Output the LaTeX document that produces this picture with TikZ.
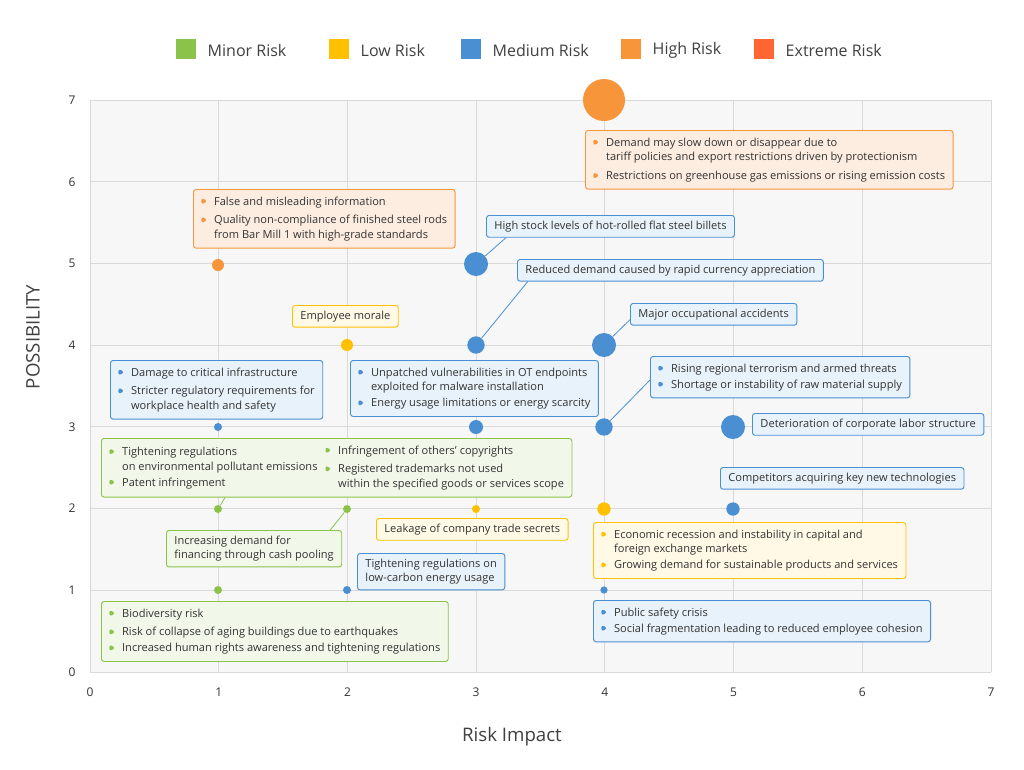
\documentclass[tikz,border=0pt]{standalone}
\usepackage{fontspec}
\setmainfont{Open Sans}
\usetikzlibrary{positioning}
\definecolor{cmin}{HTML}{8BC34A}\definecolor{fmin}{HTML}{F1F8EA}
\definecolor{clow}{HTML}{FFC000}\definecolor{flow}{HTML}{FFF9E6}
\definecolor{cmed}{HTML}{4A8FD1}\definecolor{fmed}{HTML}{E8F2FA}
\definecolor{chig}{HTML}{F7953A}\definecolor{fhig}{HTML}{FDEDE0}
\definecolor{cext}{HTML}{FF6633}
\definecolor{txt}{HTML}{333333}
\newcommand\tri[1]{\tikz[baseline=0pt,x=1pt,y=1pt]\fill[#1] (0,0.3)--(0,5.5)--(4.5,2.9)--cycle;}
\tikzset{
  box/.style={draw=c#1, fill=f#1, rounded corners=2pt, line width=0.7pt, anchor=north west,
    align=left, inner xsep=6pt, inner ysep=4pt, text=txt, font=\fontsize{8.3}{11}\selectfont},
  dot/.style={circle, fill=c#1, draw=none, inner sep=0pt},
  lead/.style={draw=cmed, line width=0.6pt},
  tick/.style={font=\fontsize{9}{10}\selectfont, text=txt}
}
\newenvironment{blist}[1]{\def\b{\tri{#1}}\begin{tabular}{@{}l@{\hspace{5pt}}l@{}}}{\end{tabular}}
\begin{document}
\begin{tikzpicture}[x=0.75pt,y=-0.75pt]
  \useasboundingbox[fill=white] (0,0) rectangle (1024,769);
  % plot area
  \fill[fill=black!3] (90,100) rectangle (991,672);
  \foreach \i in {0,...,7} {
    \draw[black!15, line width=0.6pt] (90+128.714*\i,100) -- (90+128.714*\i,672);
    \draw[black!15, line width=0.6pt] (90,672-81.714*\i) -- (991,672-81.714*\i);
    \node[tick] at (90+128.714*\i,692) {\i};
    \node[tick] at (72,672-81.714*\i) {\i};
  }
  \node[font=\fontsize{14}{15}\selectfont, text=black!75] (xlab) at (512,737) {Risk Impact};
  \node[font=\fontsize{14}{15}\selectfont, text=black!75, rotate=90] (ylab) at (33,337) {POSSIBILITY};
  % legend
  \foreach \c/\x/\t in {min/176/Minor Risk, low/329/Low Risk, med/461/Medium Risk, hig/621/High Risk, ext/754/Extreme Risk} {
    \fill[c\c] (\x,39) rectangle ++(20,20);
    \node[anchor=west, font=\fontsize{12}{14}\selectfont, text=black!75] at (\x+27,50) {\t};
  }
  % dots
  \node[dot=hig, minimum size=31.5pt] (d47) at (604,100) {};
  \node[dot=hig, minimum size=9pt] (d15) at (218,265) {};
  \node[dot=med, minimum size=18pt] (d35) at (476,264) {};
  \node[dot=low, minimum size=9pt] (d24) at (347,345) {};
  \node[dot=med, minimum size=13pt] (d34) at (476,345) {};
  \node[dot=med, minimum size=18pt] (d44) at (604,345) {};
  \node[dot=med, minimum size=6pt] (d13) at (218,427) {};
  \node[dot=med, minimum size=10.5pt] (d33) at (476,427) {};
  \node[dot=med, minimum size=13pt] (d43) at (604,427) {};
  \node[dot=med, minimum size=18pt] (d53) at (733,427) {};
  \node[dot=min, minimum size=6pt] (d12) at (218,509) {};
  \node[dot=min, minimum size=6pt] (d22) at (347,509) {};
  \node[dot=low, minimum size=6pt] (d32) at (476,509) {};
  \node[dot=low, minimum size=10pt] (d42) at (604,509) {};
  \node[dot=med, minimum size=10pt] (d52) at (733,509) {};
  \node[dot=min, minimum size=6pt] (d11) at (218,590) {};
  \node[dot=med, minimum size=6pt] (d21) at (347,590) {};
  \node[dot=med, minimum size=5.5pt] (d41) at (604,590) {};
  % labels
  \node[box=hig] (b47) at (585,130) {\begin{blist}{chig}\b & Demand may slow down or disappear due to\\ & tariff policies and export restrictions driven by protectionism\\[3pt] \b & Restrictions on greenhouse gas emissions or rising emission costs\end{blist}};
  \node[box=hig] (b15) at (193,189) {\begin{blist}{chig}\b & False and misleading information\\[3pt] \b & Quality non-compliance of finished steel rods\\ & from Bar Mill 1 with high-grade standards\end{blist}};
  \node[box=med] (b35) at (486,215) {High stock levels of hot-rolled flat steel billets};
  \node[box=med] (b34) at (517,259) {Reduced demand caused by rapid currency appreciation};
  \node[box=low] (b24) at (292,305) {Employee morale};
  \node[box=med] (b44) at (630,303) {Major occupational accidents};
  \node[box=med] (b13) at (110,360) {\begin{blist}{cmed}\b & Damage to critical infrastructure\\[3pt] \b & Stricter regulatory requirements for\\ & workplace health and safety\end{blist}};
  \node[box=med] (b33) at (350,360) {\begin{blist}{cmed}\b & Unpatched vulnerabilities in OT endpoints\\ & exploited for malware installation\\[1pt] \b & Energy usage limitations or energy scarcity\end{blist}};
  \node[box=med] (b43) at (650,356) {\begin{blist}{cmed}\b & Rising regional terrorism and armed threats\\[1pt] \b & Shortage or instability of raw material supply\end{blist}};
  \node[box=med] (b53) at (752,413) {Deterioration of corporate labor structure};
  \node[box=min] (b12) at (101,438) {\begin{blist}{cmin}\b & Tightening regulations\\ & on environmental pollutant emissions\\[1pt] \b & Patent infringement\end{blist}\hspace{6pt}\begin{blist}{cmin}\b & Infringement of others' copyrights\\[3pt] \b & Registered trademarks not used\\ & within the specified goods or services scope\end{blist}};
  \node[box=med] (b52) at (720,467) {Competitors acquiring key new technologies};
  \node[box=min] (b22) at (166,530) {Increasing demand for\\financing through cash pooling};
  \node[box=low] (b32) at (376,518) {Leakage of company trade secrets};
  \node[box=low] (b42) at (593,522) {\begin{blist}{clow}\b & Economic recession and instability in capital and\\ & foreign exchange markets\\[1pt] \b & Growing demand for sustainable products and services\end{blist}};
  \node[box=med] (b21) at (357,553) {Tightening regulations on\\low-carbon energy usage};
  \node[box=min] (b11) at (101,601) {\begin{blist}{cmin}\b & Biodiversity risk\\[3pt] \b & Risk of collapse of aging buildings due to earthquakes\\[1pt] \b & Increased human rights awareness and tightening regulations\end{blist}};
  \node[box=med] (b41) at (593,600) {\begin{blist}{cmed}\b & Public safety crisis\\[1pt] \b & Social fragmentation leading to reduced employee cohesion\end{blist}};
  % leaders
  \draw[lead] (d35) -- ([xshift=15pt]b35.south west);
  \draw[lead] (d34) -- ([xshift=8pt]b34.south west);
  \draw[lead] (d44) -- ([yshift=-4pt]b44.west);
  \draw[lead] (d43) -- ([yshift=-18pt]b43.north west);
  \draw[lead, draw=cmin] (d12) -- ([xshift=93pt]b12.south west);
  \draw[lead, draw=cmin] (d22) -- ([xshift=-9pt]b22.north east);
\end{tikzpicture}
\end{document}
